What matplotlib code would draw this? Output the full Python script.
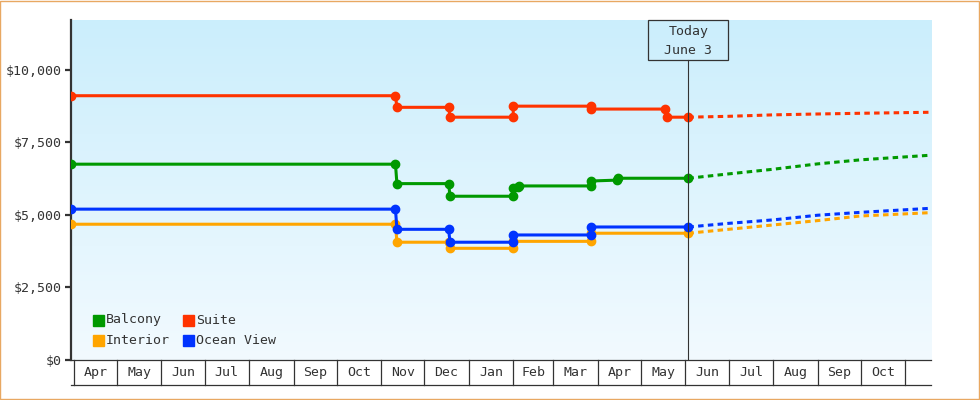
import numpy as np
import matplotlib
matplotlib.use("Agg")
import matplotlib.pyplot as plt
import matplotlib.dates as mdates
from matplotlib.patches import Rectangle

# fare history per cabin type (date, price)
suite_dates = ["2018-03-30", "2018-11-11", "2018-11-12", "2018-12-18", "2018-12-19", "2019-02-01",
               "2019-02-01", "2019-03-27", "2019-03-27", "2019-05-18", "2019-05-19", "2019-06-03"]
suite_vals = [9110, 9110, 8710, 8710, 8370, 8370, 8750, 8750, 8650, 8650, 8370, 8370]

balcony_dates = ["2018-03-30", "2018-11-11", "2018-11-12", "2018-12-18", "2018-12-19", "2019-02-01",
                 "2019-02-01", "2019-02-04", "2019-02-05", "2019-03-27", "2019-03-27", "2019-04-14",
                 "2019-04-15", "2019-06-03"]
balcony_vals = [6750, 6750, 6080, 6080, 5645, 5645, 5940, 5960, 6000, 6000, 6170, 6200, 6265, 6265]

ocean_dates = ["2018-03-30", "2018-11-11", "2018-11-12", "2018-12-18", "2018-12-19", "2019-02-01",
               "2019-02-01", "2019-03-27", "2019-03-27", "2019-06-03"]
ocean_vals = [5200, 5200, 4505, 4505, 4060, 4060, 4310, 4310, 4585, 4585]

interior_dates = ["2018-03-30", "2018-11-11", "2018-11-12", "2018-12-18", "2018-12-19", "2019-02-01",
                  "2019-02-01", "2019-03-27", "2019-03-27", "2019-06-03"]
interior_vals = [4680, 4680, 4060, 4060, 3850, 3850, 4090, 4090, 4370, 4370]

# projected prices after today
proj_dates = ["2019-06-03", "2019-07-01", "2019-08-01", "2019-09-01", "2019-10-01", "2019-11-19"]
suite_proj = [8370, 8400, 8450, 8480, 8505, 8540]
balcony_proj = [6265, 6415, 6575, 6760, 6900, 7060]
ocean_proj = [4585, 4710, 4830, 4990, 5090, 5230]
interior_proj = [4370, 4505, 4655, 4805, 4965, 5080]

y_ticks = [0, 2500, 5000, 7500, 10000]
y_labels = ["$0", "$2,500", "$5,000", "$7,500", "$10,000"]
month_starts = ["2018-04-01", "2018-05-01", "2018-06-01", "2018-07-01", "2018-08-01", "2018-09-01",
                "2018-10-01", "2018-11-01", "2018-12-01", "2019-01-01", "2019-02-01", "2019-03-01",
                "2019-04-01", "2019-05-01", "2019-06-01", "2019-07-01", "2019-08-01", "2019-09-01",
                "2019-10-01", "2019-11-01"]
month_labels = ["Apr", "May", "Jun", "Jul", "Aug", "Sep", "Oct", "Nov", "Dec", "Jan", "Feb", "Mar",
                "Apr", "May", "Jun", "Jul", "Aug", "Sep", "Oct"]
today = "2019-06-03"
x_start, x_end = "2018-03-30", "2019-11-19"

series = [
    ("Interior", "#FFA500", interior_dates, interior_vals, interior_proj),
    ("Balcony", "#009900", balcony_dates, balcony_vals, balcony_proj),
    ("Suite", "#FF3300", suite_dates, suite_vals, suite_proj),
    ("Ocean View", "#0033FF", ocean_dates, ocean_vals, ocean_proj),
]

def d(s):
    return mdates.date2num(np.array(s, dtype="datetime64[D]"))

ink = "#333333"
mono = "DejaVu Sans Mono"
fs = 9.5

fig = plt.figure(figsize=(9.8, 4), dpi=100)
ax = fig.add_axes([71 / 980, 40 / 400, 860 / 980, 340 / 400])
ymax = 11720
ax.set_xlim(d(x_start), d(x_end))
ax.set_ylim(0, ymax)

# gradient background
grad = np.linspace(0, 1, 256).reshape(-1, 1)
top = np.array([203, 238, 252]) / 255
bot = np.array([242, 250, 255]) / 255
img = top + (bot - top) * grad[:, :, None]
ax.imshow(img, extent=[0, 1, 0, 1], transform=ax.transAxes, aspect="auto", zorder=0)

for name, col, dts, vals, proj in series:
    ax.plot(d(dts), vals, color=col, lw=2.2, marker="o", ms=6, mec=col, zorder=3)
    ax.plot(d(proj_dates), proj, color=col, lw=2.2, dashes=(1.8, 1.4), dash_capstyle="butt",
            zorder=3)

# spines and y ticks
for s in ["top", "right"]:
    ax.spines[s].set_visible(False)
ax.spines["left"].set_color(ink)
ax.spines["left"].set_linewidth(1.6)
ax.spines["bottom"].set_color(ink)
ax.spines["bottom"].set_linewidth(0.9)
ax.set_yticks(y_ticks)
ax.set_yticklabels(y_labels, family=mono, fontsize=fs, color=ink)
ax.tick_params(axis="y", length=4, width=1.6, color=ink, pad=3)
ax.set_xticks([])

# month cells below the axis
x0, x1 = ax.get_xlim()
cell_h = 25 / 340
ax.plot([0, 1], [-cell_h, -cell_h], transform=ax.transAxes, color=ink, lw=0.9, clip_on=False)
ms = d(month_starts)
for m in ms:
    f = (m - x0) / (x1 - x0)
    ax.plot([f, f], [0, -cell_h], transform=ax.transAxes, color=ink, lw=0.9, clip_on=False)
for i, lab in enumerate(month_labels):
    c = ((ms[i] + ms[i + 1]) / 2 - x0) / (x1 - x0)
    ax.text(c, -cell_h / 2, lab, transform=ax.transAxes, ha="center", va="center",
            family=mono, fontsize=fs, color=ink)

# today marker
tf = (d(today) - x0) / (x1 - x0)
box_h = 40 / 340
box_w = 80 / 860
ax.plot([tf, tf], [0, 1 - box_h], transform=ax.transAxes, color=ink, lw=0.8, zorder=4)
ax.add_patch(Rectangle((tf - box_w / 2, 1 - box_h), box_w, box_h, transform=ax.transAxes,
                       fill=False, edgecolor=ink, lw=0.9, zorder=4, clip_on=False))
ax.text(tf, 1 - 12 / 340, "Today", transform=ax.transAxes, ha="center", va="center",
        family=mono, fontsize=fs, color=ink)
ax.text(tf, 1 - 30 / 340, "June 3", transform=ax.transAxes, ha="center", va="center",
        family=mono, fontsize=fs, color=ink)

# legend
legend_items = [("Balcony", "#009900", 93, 320), ("Suite", "#FF3300", 183, 320),
                ("Interior", "#FFA500", 93, 340), ("Ocean View", "#0033FF", 183, 340)]
for name, col, px, py in legend_items:
    ax.add_patch(Rectangle(((px - 71) / 860, (360 - py - 5.5) / 340), 11 / 860, 11 / 340,
                           transform=ax.transAxes, color=col, zorder=4))
    ax.text((px + 13 - 71) / 860, (360 - py) / 340, name, transform=ax.transAxes,
            ha="left", va="center", family=mono, fontsize=fs, color=ink)

# outer border
fig.patches.append(Rectangle((0.0005, 0.0015), 0.998, 0.997, transform=fig.transFigure,
                             fill=False, edgecolor="#E8A862", lw=1.0))

fig.savefig("out.png", dpi=100)
